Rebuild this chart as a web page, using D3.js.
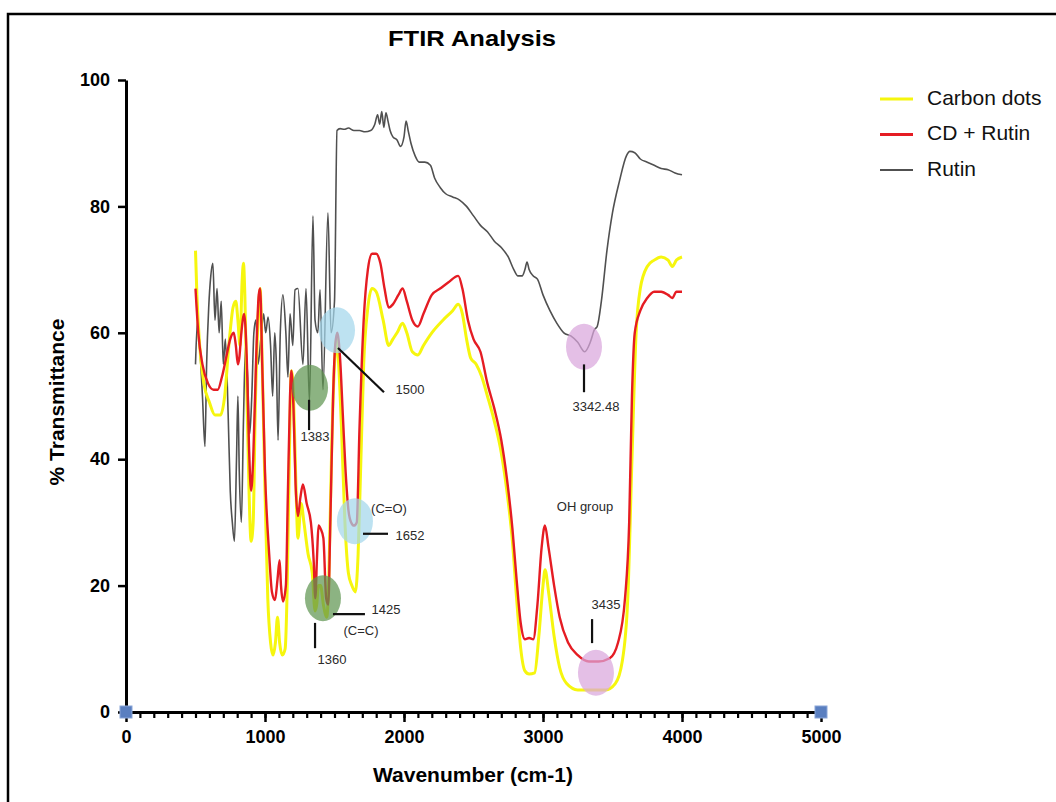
<!DOCTYPE html>
<html>
<head>
<meta charset="utf-8">
<script src="https://cdn.jsdelivr.net/npm/d3@7"></script>
<style>
  html, body { margin: 0; padding: 0; background: #fff; }
  svg { display: block; font-family: "Liberation Sans", Arial, sans-serif; }
</style>
</head>
<body>
<svg id="chart" width="1056" height="802"></svg>
<script>
// FTIR spectra: [wavenumber (cm-1), % transmittance]
const carbonDots = [
  [500,73],[510,66],[530,58],[560,52],[600,49],[640,47],[680,47],[710,50],[740,58],[770,64],
  [790,65],[805,62],[820,58],[835,68],[845,71],[855,66],[870,50],[885,35],[900,27],[915,30],
  [930,48],[950,62],[965,67],[980,55],[1000,35],[1020,18],[1040,11],[1058,9],[1075,11],[1090,15],
  [1105,11],[1125,9],[1145,10],[1160,20],[1175,40],[1190,54],[1205,50],[1220,38],[1237,27.5],[1260,33],
  [1280,30],[1310,25],[1340,22],[1360,16],[1372,17],[1385,20],[1400,20],[1420,17],[1445,15],[1460,22],
  [1480,42],[1500,55],[1515,59],[1530,55],[1550,45],[1575,30],[1600,22],[1625,20],[1650,19],[1670,25],
  [1690,40],[1710,55],[1740,64],[1770,67],[1800,66.5],[1850,62],[1890,58],[1920,59],[1950,60],[1990,61.5],
  [2020,60],[2060,57],[2100,56.5],[2140,58],[2200,60],[2280,62],[2350,63.5],[2390,64.5],[2420,63],[2450,59],
  [2480,56],[2520,55],[2560,53],[2600,50],[2650,46],[2700,41],[2740,35],[2780,27],[2810,18],[2840,10],
  [2870,6.5],[2900,6],[2940,6.2],[2970,12],[3000,20],[3015,22.5],[3040,19],[3080,12],[3120,7],[3170,4.5],
  [3250,3.5],[3350,3.5],[3450,3.5],[3520,4.5],[3570,8],[3610,18],[3640,40],[3670,60],[3700,67],[3750,70.5],
  [3800,71.5],[3850,72],[3900,71.5],[3930,70.5],[3960,71.5],[4000,72]
];

const cdRutin = [
  [500,67],[520,60],[550,55],[590,52],[630,51],[660,51],[690,53],[720,56],[750,59],[775,60],
  [790,58],[805,55],[815,56],[830,60],[850,63],[870,55],[885,42],[900,35],[915,40],[935,55],
  [955,66],[965,67],[980,55],[1000,38],[1030,25],[1050,19],[1072,17.7],[1090,21],[1105,24],[1115,20],
  [1130,17.5],[1150,20],[1165,35],[1180,50],[1190,54],[1205,48],[1220,36],[1237,31],[1255,34],[1273,36],
  [1300,33],[1330,30],[1350,24],[1362,18],[1375,25],[1385,29.5],[1400,29],[1420,27.5],[1440,18],[1455,17],
  [1470,30],[1490,50],[1505,58],[1520,60],[1540,56],[1560,47],[1580,38],[1600,32],[1620,30],[1640,29.5],
  [1660,30],[1680,45],[1710,62],[1740,70],[1770,72.5],[1800,72.5],[1830,71],[1860,67],[1890,64],[1920,64.5],
  [1960,66],[1990,67],[2020,65],[2060,62],[2100,61],[2140,63],[2200,66],[2260,67],[2320,68],[2390,69],
  [2420,67],[2460,62],[2500,59],[2550,57],[2600,52],[2650,48],[2700,43],[2740,37],[2780,29],[2810,21],
  [2840,14],[2870,11.5],[2900,11.7],[2930,11.5],[2960,17],[2990,26],[3014,29.5],[3040,26],[3080,20],[3120,15],
  [3180,11],[3250,9],[3330,8],[3400,8],[3480,8.5],[3540,11],[3590,18],[3620,30],[3640,50],[3660,60],
  [3700,63.5],[3750,65.5],[3800,66.5],[3850,66.5],[3900,66],[3930,65.5],[3960,66.5],[4000,66.5]
];

const rutin = [
  [500,55],[515,62],[530,58],[550,50],[568,42],[580,55],[595,64],[610,69],[625,71],[640,62],
  [655,67],[670,60],[685,65],[700,55],[715,59],[735,47],[750,35],[765,30],[780,27],[795,40],
  [805,50],[815,38],[830,30],[845,46],[860,58],[875,53],[890,44],[905,50],[920,60],[935,62],
  [950,55],[970,59],[990,63],[1005,60],[1022,62.5],[1040,58],[1055,50],[1070,60],[1082,55],[1094,43],
  [1110,60],[1129,66],[1150,60],[1165,53],[1180,63],[1200,58],[1216,66.8],[1237,67],[1273,55],[1295,67],
  [1320,49],[1345,78.5],[1360,62],[1380,60],[1396,66.8],[1417,51],[1453,79],[1475,60],[1500,65],[1518,92],
  [1540,92.3],[1570,92.2],[1600,92.4],[1640,92],[1680,92],[1720,91.8],[1760,92],[1790,93],[1810,94.5],[1825,93],
  [1840,95],[1855,92.5],[1870,94.8],[1885,93.5],[1900,92],[1920,91],[1950,90.5],[1975,89.5],[2000,91],[2015,93.5],
  [2030,92],[2050,90],[2080,88],[2110,87],[2150,87],[2190,86.5],[2220,84.5],[2260,83],[2300,82],[2350,81.5],
  [2400,81],[2450,80],[2500,78.5],[2550,77],[2600,76],[2650,74.5],[2700,73.5],[2750,72],[2790,70],[2820,69],
  [2850,69],[2870,70],[2885,71.2],[2900,70],[2930,69],[2960,68.5],[3000,66],[3050,63.5],[3100,61.5],[3150,60],
  [3200,59.5],[3250,58.5],[3300,57],[3340,58.5],[3370,60.5],[3390,61],[3420,65],[3460,73],[3500,79],[3550,84],
  [3600,88],[3625,88.7],[3660,88.5],[3700,87.5],[3750,87],[3800,86.5],[3850,86],[3900,85.8],[3950,85.3],[4000,85]
];

// axis ticks
const xTicks = [0, 1000, 2000, 3000, 4000, 5000];
const xMinorTicks = d3.range(0, 5001, 100);
const yTicks = [0, 20, 40, 60, 80, 100];

// endpoint markers on the baseline
const baseMarkers = [[0, 0], [5000, 0]];

// highlighted bands: [wavenumber, %T, colour]
const highlights = [
  [1518, 60.4, "#a3d7ec"],
  [1324, 51.3, "#5f9652"],
  [1647, 30.2, "#a3d7ec"],
  [1417, 18.0, "#5f9652"],
  [3295, 57.8, "#d9a6dc"],
  [3381, 6.2,  "#d9a6dc"]
];

// peak labels: [text, wavenumber, %T]
const peakLabels = [
  ["1500", 2043, 50.9],
  ["1383", 1360, 43.5],
  ["(C=O)", 1892, 32.0],
  ["1652", 2043, 27.8],
  ["1425", 1871, 16.1],
  ["(C=C)", 1691, 12.7],
  ["1360", 1482, 8.2],
  ["3342.48", 3381, 48.1],
  ["OH group", 3302, 32.4],
  ["3435", 3453, 16.9]
];

// leader lines: [x1, y1, x2, y2] in data units
const leaders = [
  [1525, 57.6, 1856, 50.6],
  [1317, 49.4, 1317, 44.6],
  [1705, 28.2, 1885, 28.2],
  [1489, 15.5, 1719, 15.5],
  [1360, 14.1, 1360, 10.1],
  [3295, 55.0, 3295, 50.6],
  [3353, 14.7, 3353, 10.9]
];

const seriesInfo = [
  { name: "Carbon dots", data: carbonDots, color: "#f6f60e", width: 3 },
  { name: "CD + Rutin",  data: cdRutin,    color: "#e51c23", width: 2.4 },
  { name: "Rutin",       data: rutin,      color: "#505050", width: 1.6 }
];

const svg = d3.select("#chart");

const x = d3.scaleLinear().domain([0, 5000]).range([126, 821]);
const y = d3.scaleLinear().domain([0, 100]).range([712, 80]);

// frame
svg.append("rect")
  .attr("x", 8).attr("y", 14).attr("width", 1100).attr("height", 900)
  .attr("fill", "none").attr("stroke", "#000").attr("stroke-width", 2.5);

// title
svg.append("text")
  .attr("x", 472).attr("y", 46)
  .attr("text-anchor", "middle")
  .attr("font-size", 22).attr("font-weight", "bold")
  .attr("textLength", 168).attr("lengthAdjust", "spacingAndGlyphs")
  .text("FTIR Analysis");

// spectra
const line = d3.line().x(d => x(d[0])).y(d => y(d[1])).curve(d3.curveMonotoneX);
const drawOrder = [seriesInfo[2], seriesInfo[0], seriesInfo[1]];
svg.append("g").selectAll("path")
  .data(drawOrder)
  .join("path")
  .attr("d", d => line(d.data))
  .attr("fill", "none")
  .attr("stroke", d => d.color)
  .attr("stroke-width", d => d.width)
  .attr("stroke-linejoin", "round");

// highlight ellipses
svg.append("g").selectAll("ellipse")
  .data(highlights)
  .join("ellipse")
  .attr("cx", d => x(d[0])).attr("cy", d => y(d[1]))
  .attr("rx", 18).attr("ry", 23)
  .attr("fill", d => d[2]).attr("fill-opacity", 0.72);

// leader lines
svg.append("g").selectAll("line")
  .data(leaders)
  .join("line")
  .attr("x1", d => x(d[0])).attr("y1", d => y(d[1]))
  .attr("x2", d => x(d[2])).attr("y2", d => y(d[3]))
  .attr("stroke", "#111").attr("stroke-width", 2.2);

// peak labels
svg.append("g").selectAll("text")
  .data(peakLabels)
  .join("text")
  .attr("x", d => x(d[1])).attr("y", d => y(d[2]))
  .attr("text-anchor", "middle").attr("dominant-baseline", "middle")
  .attr("font-size", 13).attr("fill", "#2a2a2a")
  .text(d => d[0]);

// y axis
const yAxis = svg.append("g")
  .attr("transform", `translate(${x(0)},0)`)
  .call(d3.axisLeft(y).tickValues(yTicks).tickSize(8).tickSizeOuter(0).tickPadding(8));
yAxis.select(".domain").attr("stroke-width", 3);
yAxis.selectAll(".tick line").attr("stroke-width", 2.5);
yAxis.selectAll(".tick text").attr("font-size", 18).attr("font-weight", "bold")
  .attr("font-family", "Liberation Sans, Arial, sans-serif").attr("fill", "#000");

// x axis: minor ticks then major ticks with labels
const xMinor = svg.append("g")
  .attr("transform", `translate(0,${y(0)})`)
  .call(d3.axisBottom(x).tickValues(xMinorTicks).tickSize(6).tickSizeOuter(0).tickFormat(""));
xMinor.select(".domain").remove();
xMinor.selectAll(".tick line").attr("stroke-width", 2.2);

const xAxis = svg.append("g")
  .attr("transform", `translate(0,${y(0)})`)
  .call(d3.axisBottom(x).tickValues(xTicks).tickSize(10).tickSizeOuter(0).tickPadding(8).tickFormat(d3.format("d")));
xAxis.select(".domain").attr("stroke-width", 3);
xAxis.selectAll(".tick line").attr("stroke-width", 2.5);
xAxis.selectAll(".tick text").attr("font-size", 18).attr("font-weight", "bold")
  .attr("font-family", "Liberation Sans, Arial, sans-serif").attr("fill", "#000");

// endpoint square markers
svg.append("g").selectAll("rect")
  .data(baseMarkers)
  .join("rect")
  .attr("x", d => x(d[0]) - 6).attr("y", d => y(d[1]) - 6)
  .attr("width", 12).attr("height", 12)
  .attr("fill", "#5a7fc0").attr("stroke", "#8aa6d8").attr("stroke-width", 1);

// axis titles
svg.append("text")
  .attr("x", 473).attr("y", 782)
  .attr("text-anchor", "middle")
  .attr("font-size", 21).attr("font-weight", "bold")
  .text("Wavenumber (cm-1)");

svg.append("text")
  .attr("transform", "translate(64,402) rotate(-90)")
  .attr("text-anchor", "middle")
  .attr("font-size", 21).attr("font-weight", "bold")
  .text("% Transmittance");

// legend
const legend = svg.append("g").attr("transform", "translate(880,99)");
const rows = legend.selectAll("g")
  .data(seriesInfo)
  .join("g")
  .attr("transform", (d, i) => `translate(0,${i * 35.5})`);
rows.append("line")
  .attr("x1", 0).attr("x2", 33).attr("y1", 0).attr("y2", 0)
  .attr("stroke", d => d.color)
  .attr("stroke-width", d => d.name === "Rutin" ? 2 : 3);
rows.append("text")
  .attr("x", 47).attr("y", 0)
  .attr("dominant-baseline", "middle")
  .attr("font-size", 21).attr("fill", "#111")
  .text(d => d.name);
</script>
</body>
</html>
